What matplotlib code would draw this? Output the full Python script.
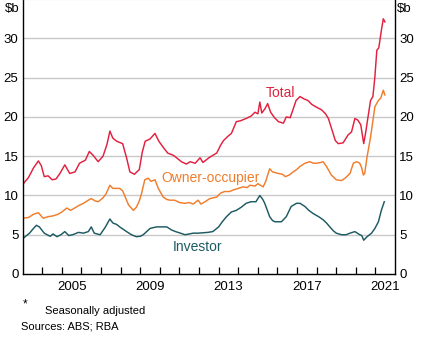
import matplotlib.pyplot as plt
import numpy as np

plt.rcParams['font.family'] = ['Liberation Sans', 'DejaVu Sans']

# monthly-ish readings, $b
total_t = [2003.0, 2003.3, 2003.55, 2003.8, 2003.95, 2004.1, 2004.3, 2004.5, 2004.7, 2004.9,
           2005.15, 2005.4, 2005.67, 2005.9, 2006.2, 2006.4, 2006.6, 2006.85, 2007.1, 2007.3,
           2007.45, 2007.6, 2007.8, 2008.1, 2008.3, 2008.47, 2008.7, 2008.95, 2009.1, 2009.25,
           2009.5, 2009.75, 2009.95, 2010.15, 2010.4, 2010.7, 2010.9, 2011.1, 2011.35, 2011.55,
           2011.8, 2012.05, 2012.2, 2012.5, 2012.9, 2013.1, 2013.25, 2013.5, 2013.65, 2013.9,
           2014.1, 2014.4, 2014.65, 2014.85, 2015.0, 2015.1, 2015.2, 2015.35, 2015.5, 2015.65,
           2015.85, 2016.05, 2016.3, 2016.45, 2016.65, 2016.95, 2017.15, 2017.35, 2017.55, 2017.75,
           2017.95, 2018.25, 2018.45, 2018.6, 2018.75, 2018.95, 2019.1, 2019.35, 2019.6, 2019.78,
           2019.95, 2020.1, 2020.25, 2020.4, 2020.5, 2020.62, 2020.75, 2020.87, 2020.97, 2021.07,
           2021.17, 2021.3, 2021.4, 2021.48]
total_v = [11.4, 12.3, 13.5, 14.4, 13.8, 12.4, 12.5, 12.0, 12.1, 12.8,
           13.9, 12.8, 13.0, 14.1, 14.5, 15.6, 15.1, 14.3, 15.0, 16.5,
           18.2, 17.3, 16.9, 16.6, 14.8, 13.0, 12.7, 13.3, 15.5, 16.9,
           17.2, 17.9, 16.9, 16.2, 15.4, 15.1, 14.7, 14.3, 14.0, 14.3,
           14.1, 14.8, 14.2, 14.8, 15.4, 16.4, 17.0, 17.6, 17.9, 19.4,
           19.5, 19.8, 20.1, 20.6, 20.4, 21.9, 20.5, 21.0, 21.7, 20.6,
           19.9, 19.4, 19.2, 20.0, 19.9, 22.1, 22.6, 22.3, 22.1, 21.6,
           21.3, 20.9, 20.4, 19.8, 18.6, 17.0, 16.6, 16.7, 17.7, 18.1,
           19.8, 19.6, 19.0, 16.6, 18.0, 20.0, 22.1, 22.6, 25.1, 28.5,
           28.8, 31.0, 32.5, 32.1]

owner_t = [2003.0, 2003.3, 2003.55, 2003.8, 2004.05, 2004.3, 2004.55, 2004.8, 2005.0, 2005.25,
           2005.45, 2005.65, 2005.85, 2006.1, 2006.35, 2006.5, 2006.7, 2006.85, 2007.1, 2007.25,
           2007.45, 2007.6, 2007.95, 2008.1, 2008.25, 2008.4, 2008.65, 2008.8, 2008.95, 2009.07,
           2009.23, 2009.4, 2009.55, 2009.75, 2009.92, 2010.17, 2010.35, 2010.5, 2010.75, 2011.0,
           2011.28, 2011.5, 2011.7, 2011.95, 2012.1, 2012.3, 2012.55, 2012.9, 2013.1, 2013.3,
           2013.55, 2013.75, 2014.0, 2014.25, 2014.45, 2014.6, 2014.85, 2015.0, 2015.27, 2015.4,
           2015.6, 2015.75, 2016.05, 2016.25, 2016.4, 2016.6, 2016.8, 2016.98, 2017.15, 2017.4,
           2017.65, 2017.85, 2018.0, 2018.2, 2018.33, 2018.5, 2018.75, 2019.0, 2019.27, 2019.45,
           2019.7, 2019.87, 2020.04, 2020.2, 2020.3, 2020.38, 2020.45, 2020.57, 2020.72, 2020.8,
           2020.97, 2021.15, 2021.27, 2021.4, 2021.48]
owner_v = [7.1, 7.2, 7.6, 7.8, 7.1, 7.3, 7.4, 7.6, 7.9, 8.4,
           8.1, 8.4, 8.7, 9.0, 9.4, 9.6, 9.3, 9.2, 9.7, 10.2,
           11.3, 10.9, 10.9, 10.6, 9.7, 8.8, 8.1, 8.5, 9.3, 10.3,
           12.0, 12.2, 11.8, 12.0, 10.9, 9.8, 9.5, 9.4, 9.4, 9.1,
           9.0, 9.1, 8.9, 9.4, 8.9, 9.2, 9.6, 9.8, 10.3, 10.5,
           10.5, 10.7, 10.9, 11.1, 11.0, 11.3, 11.2, 11.5, 11.1, 11.8,
           13.4, 13.0, 12.8, 12.7, 12.4, 12.6, 13.0, 13.3, 13.7, 14.1,
           14.3, 14.1, 14.1, 14.2, 14.3, 13.7, 12.6, 12.0, 11.9, 12.2,
           12.8, 14.1, 14.3, 14.1, 13.5, 12.6, 12.8, 14.9, 17.0, 18.3,
           21.3, 22.1, 22.4, 23.4, 22.8]

investor_t = [2003.0, 2003.35, 2003.55, 2003.7, 2003.85, 2004.1, 2004.25, 2004.4, 2004.55, 2004.75,
              2004.95, 2005.15, 2005.35, 2005.55, 2005.85, 2006.1, 2006.35, 2006.5, 2006.65, 2006.95,
              2007.2, 2007.45, 2007.6, 2007.8, 2007.95, 2008.3, 2008.55, 2008.8, 2009.0, 2009.15,
              2009.5, 2009.83, 2010.1, 2010.35, 2010.6, 2010.8, 2011.05, 2011.28, 2011.5, 2011.7,
              2011.95, 2012.2, 2012.45, 2012.7, 2013.0, 2013.2, 2013.4, 2013.65, 2013.9, 2014.15,
              2014.4, 2014.65, 2014.9, 2015.0, 2015.1, 2015.25, 2015.35, 2015.5, 2015.6, 2015.75,
              2015.87, 2016.2, 2016.45, 2016.7, 2016.97, 2017.15, 2017.4, 2017.6, 2017.82, 2018.1,
              2018.33, 2018.5, 2018.67, 2018.85, 2019.0, 2019.27, 2019.5, 2019.7, 2019.95, 2020.2,
              2020.3, 2020.4, 2020.57, 2020.8, 2020.97, 2021.15, 2021.3, 2021.45]
investor_v = [4.5, 5.2, 5.8, 6.2, 6.0, 5.2, 5.0, 4.8, 5.1, 4.75,
              5.0, 5.4, 4.9, 5.0, 5.3, 5.2, 5.4, 6.0, 5.2, 5.0,
              5.9, 7.0, 6.5, 6.3, 6.0, 5.4, 5.0, 4.75, 4.8, 5.0,
              5.8, 6.0, 6.0, 6.0, 5.6, 5.4, 5.2, 5.0, 5.1, 5.2,
              5.2, 5.25, 5.3, 5.4, 6.0, 6.7, 7.3, 7.9, 8.1, 8.5,
              9.0, 9.2, 9.2, 9.6, 10.0, 9.5, 9.0, 8.0, 7.3, 6.8,
              6.65, 6.65, 7.3, 8.6, 9.0, 9.0, 8.6, 8.1, 7.7, 7.3,
              6.9, 6.5, 6.0, 5.5, 5.2, 5.0, 5.0, 5.2, 5.4, 5.0,
              4.9, 4.3, 4.75, 5.2, 5.8, 6.65, 8.1, 9.2]

red = '#e2203f'
orange = '#f07d2c'
teal = '#1d5a62'

fig = plt.figure(figsize=(4.32, 3.44), dpi=100)
ax = fig.add_axes([0.0525, 0.2035, 0.862, 0.799])

ax.plot(total_t, total_v, color=red, lw=1.05)
ax.plot(owner_t, owner_v, color=orange, lw=1.05)
ax.plot(investor_t, investor_v, color=teal, lw=1.05)

ax.set_xlim(2003, 2022)
ax.set_ylim(0, 35)

# gridlines
for y in range(5, 35, 5):
    ax.axhline(y, color='#c8c8c8', lw=1.0, zorder=0)

ax.set_yticks(range(0, 35, 5))
ax.tick_params(axis='y', length=0, labelsize=9.5, pad=3,
               left=True, right=True, labelleft=True, labelright=True)

# year ticks at boundaries, labels centred in the year
ax.set_xticks(np.arange(2004, 2022), minor=False)
ax.set_xticklabels([])
ax.tick_params(axis='x', direction='in', length=5, width=0.9, color='black')
ax.set_xticks([2005.5, 2009.5, 2013.5, 2017.5, 2021.5], minor=True)
ax.set_xticklabels(['2005', '2009', '2013', '2017', '2021'], minor=True)
ax.tick_params(axis='x', which='minor', length=0, labelsize=9.5, pad=5)

for side in ['left', 'right', 'bottom']:
    ax.spines[side].set_color('black')
    ax.spines[side].set_linewidth(1.0)
ax.spines['top'].set_color('#c8c8c8')

fig.text(0.012, 0.992, '$b', fontsize=9.5, va='top', ha='left')
fig.text(0.919, 0.992, '$b', fontsize=9.5, va='top', ha='left')

ax.text(2016.15, 23.1, 'Total', color=red, fontsize=10, ha='center', va='center')
ax.text(2012.6, 12.2, 'Owner-occupier', color=orange, fontsize=10, ha='center', va='center')
ax.text(2011.9, 3.4, 'Investor', color=teal, fontsize=10, ha='center', va='center')

fig.text(0.053, 0.116, '*', fontsize=8.5, ha='left', va='center')
fig.text(0.104, 0.096, 'Seasonally adjusted', fontsize=8, ha='left', va='center')
fig.text(0.048, 0.052, 'Sources: ABS; RBA', fontsize=8, ha='left', va='center')

fig.savefig('out.png', dpi=100)
